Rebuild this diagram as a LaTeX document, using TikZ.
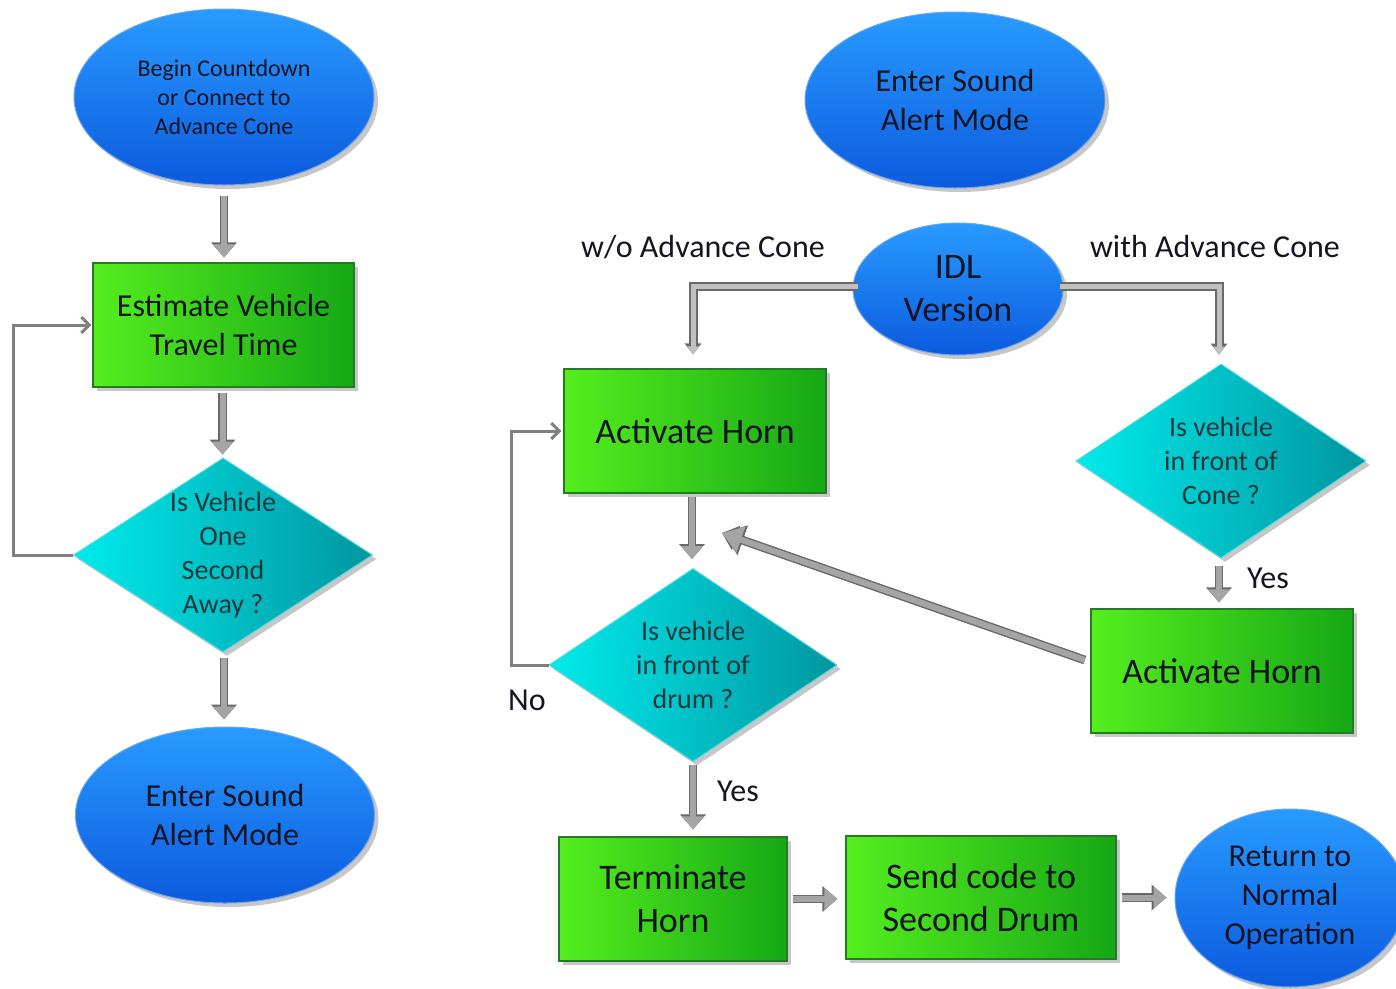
\documentclass[tikz,border=0pt]{standalone}
\usepackage{fontspec}
\setmainfont{Carlito}
\usetikzlibrary{shapes.geometric,arrows.meta,shadows}
\definecolor{bluetop}{RGB}{40,155,255}
\definecolor{bluebot}{RGB}{12,90,222}
\definecolor{blueedge}{RGB}{110,165,235}
\definecolor{greenL}{RGB}{85,238,30}
\definecolor{greenR}{RGB}{22,168,22}
\definecolor{greenedge}{RGB}{40,120,40}
\definecolor{cyanL}{RGB}{0,235,235}
\definecolor{cyanR}{RGB}{0,150,160}
\definecolor{cyanedge}{RGB}{80,215,225}
\definecolor{ink}{RGB}{20,20,35}
\definecolor{diaink}{RGB}{35,55,60}
\definecolor{arrowfill}{RGB}{165,165,165}
\definecolor{arrowedge}{RGB}{105,105,105}
\definecolor{fbline}{RGB}{128,128,128}
\begin{document}
\begin{tikzpicture}[x=1pt,y=-1pt,
  shad/.style={drop shadow={shadow xshift=4pt,shadow yshift=-4pt,opacity=0.22,fill=black}},
  ell/.style={ellipse, draw=blueedge, line width=1pt, top color=bluetop, bottom color=bluebot,
    inner sep=0pt, align=center, text=ink, shad},
  gbox/.style={rectangle, draw=greenedge, line width=1.2pt, left color=greenL, right color=greenR,
    inner sep=0pt, align=center, text=ink, shad},
  dia/.style={diamond, draw=cyanedge, line width=1pt, left color=cyanL, right color=cyanR,
    inner sep=0pt, shad},
  dtext/.style={font=\fontsize{28}{34}\selectfont, align=center, text=diaink},
  blk/.style={draw=arrowfill, line width=6pt, -{Triangle[length=13pt,width=21pt]},
    preaction={draw=arrowedge, line width=8.5pt, -{Triangle[length=15pt,width=25pt]}}},
  dblk/.style={draw=arrowfill!70, line width=5pt, -{Triangle[length=8pt,width=11pt]},
    preaction={draw=arrowedge, line width=9pt, -{Triangle[length=11pt,width=16pt]}}},
  fb/.style={draw=fbline, line width=3pt, -{Straight Barb[length=8pt,width=16pt]}},
  lbl/.style={font=\fontsize{32}{36}\selectfont, text=ink},
]
\useasboundingbox (0,0) rectangle (1396,988);

% left column
\node[ell, minimum width=300pt, minimum height=176pt, font=\fontsize{24}{29}\selectfont]
  (begin) at (224,97) {Begin Countdown\\or Connect to\\Advance Cone};
\node[gbox, minimum width=261pt, minimum height=124pt, font=\fontsize{32}{39}\selectfont]
  (est) at (223.5,325) {Estimate Vehicle\\Travel Time};
\node[dia, minimum width=299pt, minimum height=194pt,
  label={[dtext]center:{Is Vehicle\\One\\Second\\Away ?}}] (d1) at (223,555) {};
\node[ell, minimum width=299pt, minimum height=176pt, font=\fontsize{32}{39}\selectfont]
  (enterL) at (225,815) {Enter Sound\\Alert Mode};

\draw[blk, shorten <=10pt, shorten >=5pt] (begin.south) -- (begin.south |- est.north);
\draw[blk, shorten <=5pt, shorten >=3pt] ([xshift=-1pt]est.south) -- ([xshift=-1pt]est.south |- d1.north);
\draw[blk, shorten <=5pt, shorten >=7pt] ([xshift=1pt]d1.south) -- ([xshift=1pt]d1.south |- enterL.north);
\draw[fb] (d1.west) -- ++(-60,0) |- ([xshift=-1pt]est.west);

% right part
\node[ell, minimum width=300pt, minimum height=176pt, font=\fontsize{32}{39}\selectfont]
  (enterR) at (955,100) {Enter Sound\\Alert Mode};
\node[ell, minimum width=210pt, minimum height=132pt, font=\fontsize{36}{43}\selectfont]
  (idl) at (958,289) {IDL\\Version};
\node[lbl] (wo) at (703,247) {w/o Advance Cone};
\node[lbl] (with) at (1215,247) {with Advance Cone};

\node[gbox, minimum width=262pt, minimum height=124pt, font=\fontsize{36}{43}\selectfont]
  (act1) at (695,431) {Activate Horn};
\node[dia, minimum width=290pt, minimum height=194pt,
  label={[dtext]center:{Is vehicle\\in front of\\Cone ?}}] (d2) at (1221,461) {};
\node[gbox, minimum width=262pt, minimum height=124pt, font=\fontsize{36}{43}\selectfont]
  (act2) at (1222,671) {Activate Horn};
\node[dia, minimum width=288pt, minimum height=193pt,
  label={[dtext]center:{Is vehicle\\in front of\\drum ?}}] (d3) at (693,665) {};
\node[gbox, minimum width=228pt, minimum height=124pt, font=\fontsize{36}{43}\selectfont]
  (term) at (673,899) {Terminate\\Horn};
\node[gbox, minimum width=270pt, minimum height=123pt, font=\fontsize{36}{43}\selectfont]
  (send) at (981,897.5) {Send code to\\Second Drum};
\node[ell, minimum width=230pt, minimum height=178pt, font=\fontsize{32}{39}\selectfont]
  (ret) at (1290,898) {Return to\\Normal\\Operation};

\node[lbl] (yes1) at (1268,578) {Yes};
\node[lbl] (no) at (527,700) {No};
\node[lbl] (yes2) at (738,791) {Yes};

\coordinate (diagtip) at (722,533);

\draw[dblk, shorten <=-5pt, shorten >=14pt] ([yshift=3pt]idl.west) -| ([xshift=-2pt]act1.north);
\draw[dblk, shorten <=-4pt, shorten >=9pt] ([yshift=3pt]idl.east) -| ([xshift=-2pt]d2.north);
\draw[blk, shorten <=7pt, shorten >=6pt] ([xshift=-2pt]d2.south) -- ([xshift=-2pt]d2.south |- act2.north);
\draw[blk, -{Triangle[length=20pt,width=26pt]},
  preaction={draw=arrowedge, line width=8.5pt, -{Triangle[length=22pt,width=30pt]}},
  shorten <=6pt] ([yshift=9pt]act2.west) -- (diagtip);
\draw[blk, shorten <=3pt, shorten >=9pt] ([xshift=-1pt]act1.south -| d3.south) -- ([xshift=-1pt]d3.north);
\draw[fb] (d3.west) -- ++(-37,0) |- ([xshift=-2pt]act1.west);
\draw[blk, shorten <=3pt, shorten >=7pt] (d3.south) -- (d3.south |- term.north);
\draw[blk, shorten <=5pt, shorten >=8pt] (term.east) -- (term.east -| send.west);
\draw[blk, shorten <=5pt, shorten >=8pt] (send.east) -- (send.east -| ret.west);
\end{tikzpicture}
\end{document}
